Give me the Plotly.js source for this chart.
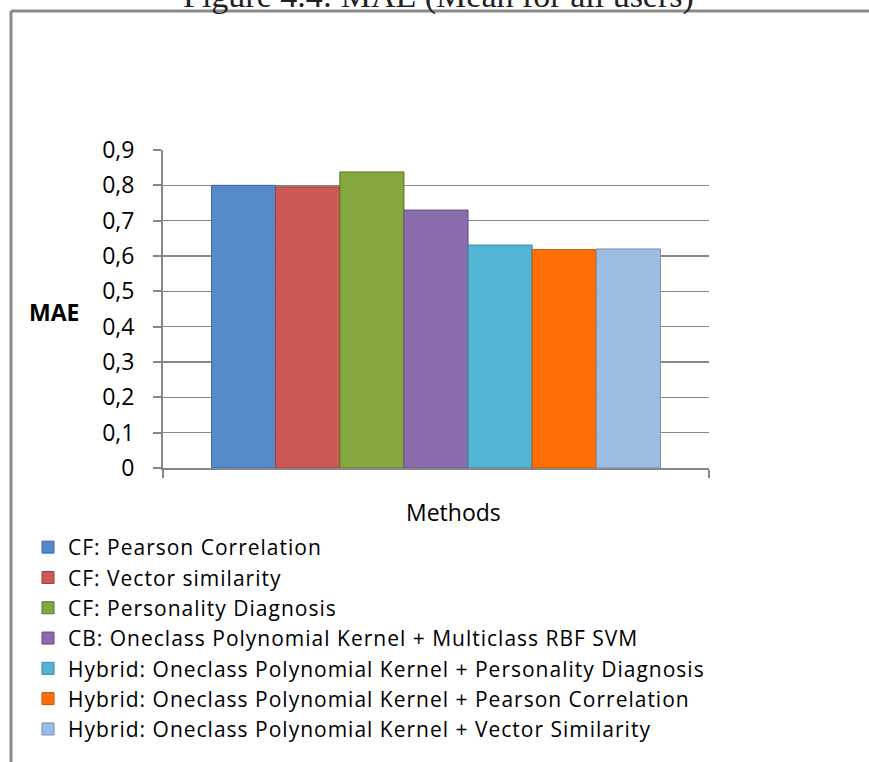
<!DOCTYPE html>
<html>
<head>
<meta charset="utf-8">
<script src="https://cdn.plot.ly/plotly-3.0.1.min.js"></script>
<style>
  html, body { margin: 0; padding: 0; background: #ffffff; }
  #chart { width: 869px; height: 762px; }
  #chart .legendtext { letter-spacing: 1px; }
  #chart .legend .scrollbox { clip-path: none !important; }
</style>
</head>
<body>
<div id="chart"></div>
<script>
// ---- data ----
const methods = [
  "CF: Pearson Correlation",
  "CF: Vector similarity",
  "CF: Personality Diagnosis",
  "CB: Oneclass Polynomial Kernel + Multiclass RBF SVM",
  "Hybrid: Oneclass Polynomial Kernel + Personality Diagnosis",
  "Hybrid: Oneclass Polynomial Kernel + Pearson Correlation",
  "Hybrid: Oneclass Polynomial Kernel + Vector Similarity"
];
const maeValues = [0.800, 0.796, 0.838, 0.730, 0.631, 0.618, 0.620];
const fillColors = ["#5589C8", "#CD5957", "#84A73F", "#8A6BAC", "#51B5D3", "#FF6F08", "#9DBCE2"];
const edgeColors = ["#3A6AA3", "#A03C3A", "#5A7528", "#664C85", "#3889A3", "#C45204", "#7390B5"];
const yAxisLabel = "MAE";
const xAxisLabel = "Methods";
const figTitle = "Figure 4.4: MAE (Mean for all users)";

// ---- geometry ----
const W = 869, H = 762;
const M = { l: 163, r: 160, t: 150, b: 294, autoexpand: false };
const PW = W - M.l - M.r, PH = H - M.t - M.b;
const px = x => (x - M.l) / PW;
const py = y => (H - M.b - y) / PH;

const traces = methods.map((name, i) => ({
  type: "bar",
  name: name,
  x: [0],
  y: [maeValues[i]],
  marker: { color: fillColors[i], line: { color: edgeColors[i], width: 1 } },
  hoverinfo: "skip"
}));

const fontFam = "Open Sans, sans-serif";
const gray = "#878787";

const layout = {
  width: W, height: H,
  margin: M,
  paper_bgcolor: "#ffffff",
  plot_bgcolor: "#ffffff",
  separators: ",.",
  barmode: "group",
  bargap: 0.178,
  bargroupgap: 0,
  showlegend: true,
  font: { family: fontFam, size: 23, color: "#000000" },
  xaxis: {
    type: "linear",
    range: [-0.5, 0.5],
    tickvals: [-0.5, 0.5],
    showticklabels: false,
    ticks: "outside", ticklen: 8, tickwidth: 2, tickcolor: gray,
    showline: true, linecolor: gray, linewidth: 2,
    showgrid: false, zeroline: false, fixedrange: true
  },
  yaxis: {
    range: [0, 0.9],
    dtick: 0.1, tick0: 0,
    ticks: "outside", ticklen: 8, tickwidth: 2, tickcolor: gray,
    showline: true, linecolor: gray, linewidth: 2,
    showgrid: true, gridcolor: gray, gridwidth: 1.5,
    zeroline: false,
    ticklabelstandoff: 14,
    tickfont: { family: fontFam, size: 23, color: "#000000" },
    fixedrange: true
  },
  legend: {
    xref: "container", yref: "container",
    x: 28 / W, y: 1 - 527 / H,
    xanchor: "left", yanchor: "top",
    orientation: "v",
    traceorder: "normal",
    font: { family: fontFam, size: 21, color: "#000000" },
    bgcolor: "rgba(0,0,0,0)",
    tracegroupgap: 0,
    itemclick: false, itemdoubleclick: false
  },
  annotations: [
    { text: "<b>" + yAxisLabel + "</b>", xref: "paper", yref: "paper",
      x: px(54), y: py(312), xanchor: "center", yanchor: "middle",
      showarrow: false, font: { family: fontFam, size: 23, color: "#000000" } },
    { text: xAxisLabel, xref: "paper", yref: "paper",
      x: px(453), y: py(512), xanchor: "center", yanchor: "middle",
      showarrow: false, font: { family: fontFam, size: 23, color: "#000000" } },
    { text: figTitle, xref: "paper", yref: "paper",
      x: px(438), y: py(17), xanchor: "center", yanchor: "bottom",
      showarrow: false, font: { family: "Liberation Serif, serif", size: 34, color: "#222222" } }
  ],
  shapes: [
    { type: "line", xref: "paper", yref: "paper", x0: px(11), x1: px(11), y0: py(11), y1: py(H + 5),
      line: { color: "#8a8a8a", width: 3 } },
    { type: "line", xref: "paper", yref: "paper", x0: px(11), x1: px(W + 5), y0: py(11), y1: py(11),
      line: { color: "#8a8a8a", width: 3 } }
  ]
};

Plotly.newPlot("chart", traces, layout, { displayModeBar: false, staticPlot: true });
</script>
</body>
</html>
